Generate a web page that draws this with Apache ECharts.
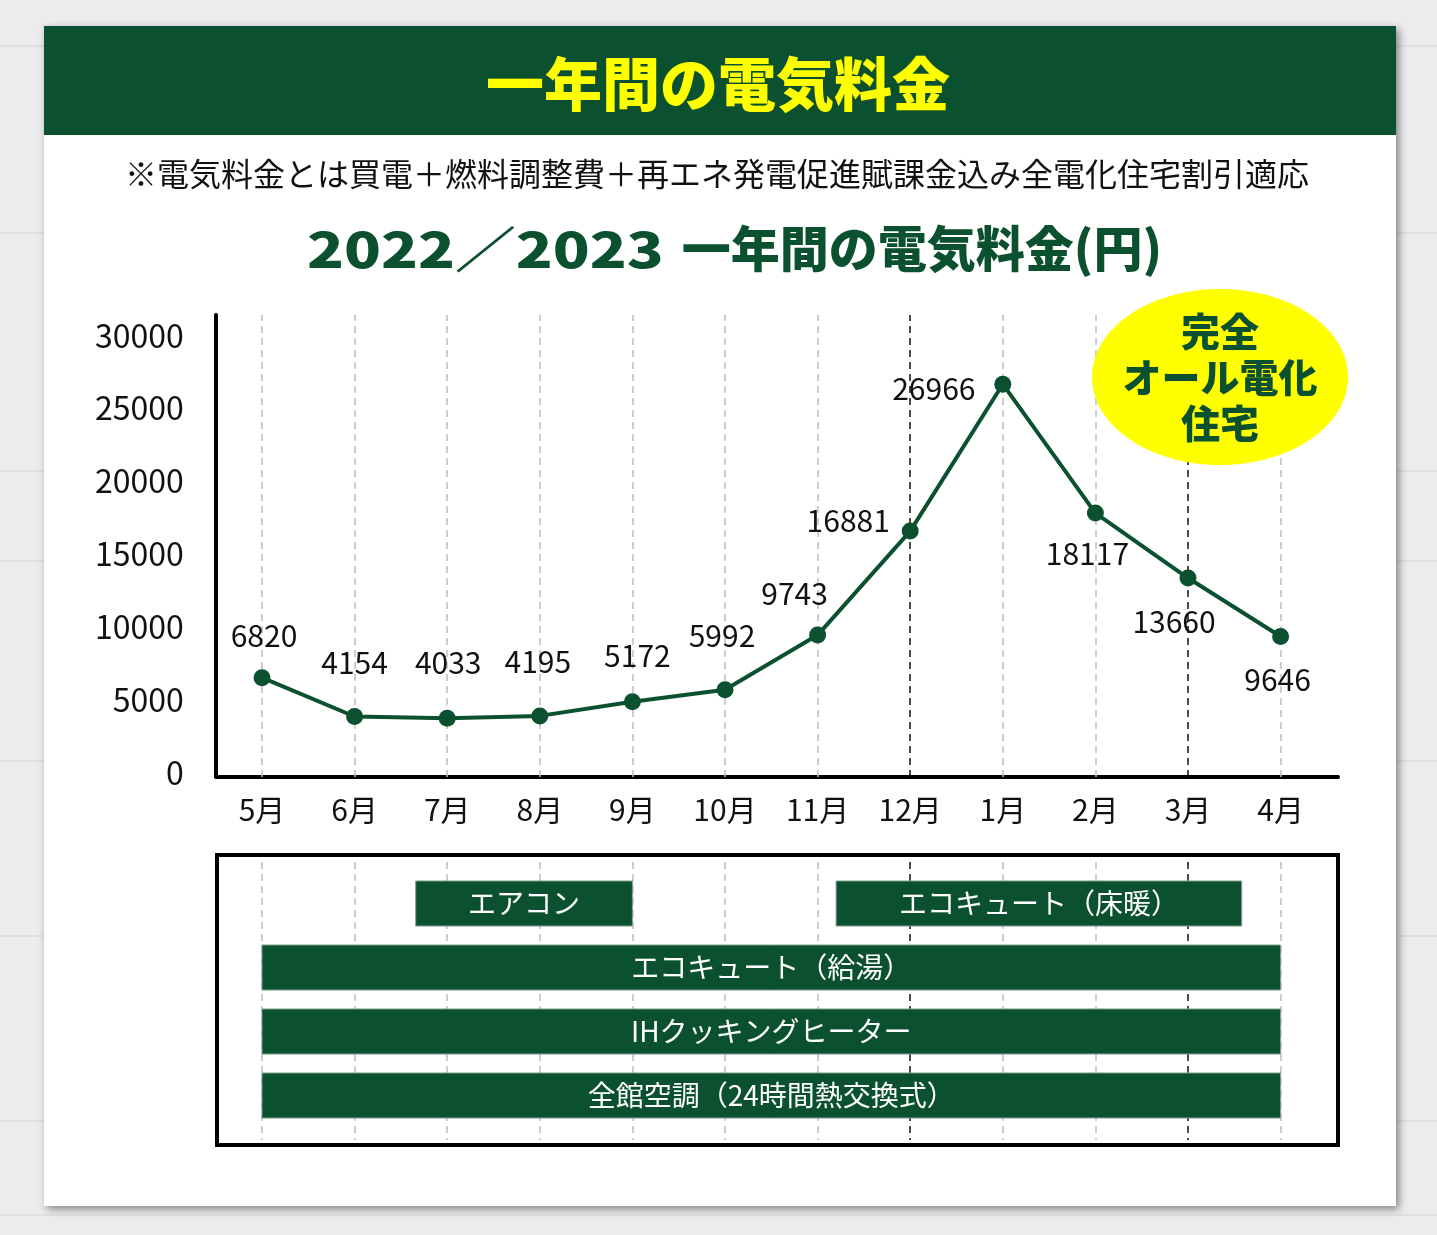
<!DOCTYPE html>
<html lang="ja">
<head>
<meta charset="utf-8">
<title>一年間の電気料金</title>
<script src="https://cdn.jsdelivr.net/npm/echarts@6/dist/echarts.min.js"></script>
<style>
  html, body { margin: 0; padding: 0; background: #ececec; }
  #chart { width: 1437px; height: 1235px; }
</style>
</head>
<body>
<div id="chart"></div>
<script>
// ---- data ----
const months = ['5月', '6月', '7月', '8月', '9月', '10月', '11月', '12月', '1月', '2月', '3月', '4月'];
const costs = [6820, 4154, 4033, 4195, 5172, 5992, 9743, 16881, 26966, 18117, 13660, 9646];
const yTickInterval = 5000;
const highlightMonths = ['12月', '3月'];

// equipment usage periods (month index, fractional where the bar starts mid-month)
const taskNames = ['エアコン', 'エコキュート（床暖）', 'エコキュート（給湯）', 'IHクッキングヒーター', '全館空調（24時間熱交換式）'];
const taskRows = [0, 0, 1, 2, 3];
const taskStarts = [1.66, 6.2, 0, 0, 0];
const taskEnds = [4, 10.58, 11, 11, 11];

// ---- styles ----
const GREEN = '#0b5130';
const FONT = '"Noto Sans CJK JP", "Noto Sans", sans-serif';
const labelOffsets = [[2, -42], [0, -54], [1, -56], [-2, -54], [5, -46], [-3, -54], [-23, -41], [-62, -11], [-69, 4], [-8, 40], [-14, 44], [-3, 43]];

const BAND = 92.6;
const FIRST_X = 262;
const gridLeftA = FIRST_X - BAND / 2;
const gridRightA = 1437 - (gridLeftA + BAND * 12);
const boxLeft = 217, boxRight = 1338;
const xMinB = (boxLeft - FIRST_X) / BAND;
const xMaxB = (boxRight - FIRST_X) / BAND;
const yScale = (777 - 340) / 30000;
const yMaxA = (777 - 315) / yScale;
const boxTop = 855, boxBottom = 1145, rowPitch = 64, firstRowCenter = 903.5;
const yMinB = -(firstRowCenter - boxTop) / rowPitch;
const yMaxB = (boxBottom - firstRowCenter) / rowPitch;

const chart = echarts.init(document.getElementById('chart'), null, { renderer: 'canvas' });

const grayDash = { color: '#bdbdbd', width: 1.5, type: [7, 5] };
const blackDash = { color: '#111', width: 1.5, type: [7, 5] };

function vLinesCategory() {
  return months.map(m => ({
    xAxis: m,
    lineStyle: highlightMonths.includes(m) ? blackDash : grayDash
  }));
}
function vLinesBox() {
  return months.map((m, i) => ([
    { coord: [i, yMinB + 7 / rowPitch], lineStyle: highlightMonths.includes(m) ? blackDash : grayDash },
    { coord: [i, yMaxB - 5 / rowPitch] }
  ]));
}

// background planks
const plankLines = [45, 232, 470, 560, 760, 935, 1120, 1214].map(y => ({
  type: 'rect', z: -30, silent: true,
  shape: { x: 0, y: y, width: 1437, height: 2 },
  style: { fill: '#e0e0e0' }
}));

const option = {
  animation: false,
  backgroundColor: '#ececec',
  textStyle: { fontFamily: FONT },
  graphic: [
    ...plankLines,
    { type: 'rect', z: -10, silent: true,
      shape: { x: 44, y: 26, width: 1352, height: 1180 },
      style: { fill: '#ffffff', shadowBlur: 8, shadowOffsetX: 3, shadowOffsetY: 3, shadowColor: 'rgba(0,0,0,0.45)' } },
    { type: 'rect', z: -9, silent: true,
      shape: { x: 44, y: 26, width: 1352, height: 109 },
      style: { fill: GREEN } },
    { type: 'text', z: 60, x: 718, y: 84, silent: true,
      style: { text: '一年間の電気料金', fill: '#ffff00', font: '900 58px ' + FONT, textAlign: 'center', textVerticalAlign: 'middle' } },
    { type: 'text', z: 60, x: 717, y: 174, silent: true,
      style: { text: '※電気料金とは買電＋燃料調整費＋再エネ発電促進賦課金込み全電化住宅割引適応', fill: '#111', font: '400 32px ' + FONT, textAlign: 'center', textVerticalAlign: 'middle' } },
    { type: 'text', z: 60, x: 307, y: 249, scaleX: 1.24, silent: true,
      style: { text: '2022／2023', fill: GREEN, font: '900 49px ' + FONT, textAlign: 'left', textVerticalAlign: 'middle' } },
    { type: 'text', z: 60, x: 1162, y: 248, silent: true,
      style: { text: '一年間の電気料金(円)', fill: GREEN, font: '900 49px ' + FONT, textAlign: 'right', textVerticalAlign: 'middle' } },
    { type: 'ellipse', z: 50, silent: true,
      shape: { cx: 1220, cy: 377, rx: 128, ry: 88 },
      style: { fill: '#ffff00' } },
    { type: 'text', z: 60, x: 1220, y: 377, silent: true,
      style: { text: '完全\nオール電化\n住宅', fill: GREEN, font: '900 39px ' + FONT, lineHeight: 46, textAlign: 'center', textVerticalAlign: 'middle' } }
  ],
  grid: [
    { left: gridLeftA, right: gridRightA, top: 315, bottom: 1235 - 777 },
    { left: boxLeft, right: 1437 - boxRight, top: boxTop, bottom: 1235 - boxBottom,
      show: true, borderColor: '#000', borderWidth: 4, backgroundColor: 'transparent' },
    { left: 217, right: 1437 - 1338, top: 315, bottom: 1235 - 777 }
  ],
  xAxis: [
    { type: 'category', gridIndex: 0, data: months, boundaryGap: true,
      axisLine: { show: false }, axisTick: { show: false }, splitLine: { show: false },
      axisLabel: { color: '#111', fontSize: 30, fontFamily: FONT, margin: 18, interval: 0 } },
    { type: 'value', gridIndex: 1, min: xMinB, max: xMaxB, show: false },
    { type: 'value', gridIndex: 2, min: 0, max: 1,
      axisLine: { show: true, lineStyle: { color: '#000', width: 4 } },
      axisTick: { show: false }, axisLabel: { show: false }, splitLine: { show: false } }
  ],
  yAxis: [
    { type: 'value', gridIndex: 0, min: 0, max: yMaxA, interval: yTickInterval,
      axisLine: { show: true, lineStyle: { color: '#000', width: 4 } },
      axisTick: { show: false }, splitLine: { show: false },
      axisLabel: { color: '#111', fontFamily: FONT, margin: 32, showMaxLabel: false,
        formatter: v => '{a|' + String(Math.round(v)) + '}\n{b| }',
        rich: { a: { fontSize: 32, lineHeight: 40, color: '#111', fontFamily: FONT },
                b: { fontSize: 4, lineHeight: 9 } } } },
    { type: 'value', gridIndex: 1, min: yMinB, max: yMaxB, inverse: true, show: false },
    { type: 'value', gridIndex: 2, min: 0, max: 1, show: false }
  ],
  series: [
    {
      type: 'line', xAxisIndex: 0, yAxisIndex: 0, z: 3,
      data: costs.map((v, i) => ({ value: v, label: { offset: labelOffsets[i] } })),
      lineStyle: { color: GREEN, width: 4 },
      itemStyle: { color: GREEN },
      symbol: 'circle', symbolSize: 17,
      label: { show: true, position: 'inside', color: '#111', fontSize: 30, fontFamily: FONT,
        align: 'center', verticalAlign: 'middle' },
      markLine: { silent: true, z: 1, symbol: ['none', 'none'], label: { show: false },
        data: vLinesCategory() }
    },
    {
      type: 'custom', xAxisIndex: 1, yAxisIndex: 1, z: 3,
      data: taskNames.map((n, i) => [taskStarts[i], taskEnds[i], taskRows[i]]),
      renderItem: function (params, api) {
        const s = api.coord([api.value(0), api.value(2)]);
        const e = api.coord([api.value(1), api.value(2)]);
        const h = 45;
        return {
          type: 'group',
          children: [
            { type: 'rect',
              shape: { x: s[0], y: s[1] - h / 2, width: e[0] - s[0], height: h },
              style: { fill: GREEN, stroke: '#7f9c8b', lineWidth: 1 } },
            { type: 'text', x: (s[0] + e[0]) / 2, y: s[1],
              style: { text: taskNames[params.dataIndex], fill: '#ffffff', font: '400 28px ' + FONT,
                textAlign: 'center', textVerticalAlign: 'middle' } }
          ]
        };
      },
      markLine: { silent: true, z: 1, symbol: ['none', 'none'], label: { show: false },
        data: vLinesBox() }
    }
  ]
};

chart.setOption(option);
</script>
</body>
</html>
